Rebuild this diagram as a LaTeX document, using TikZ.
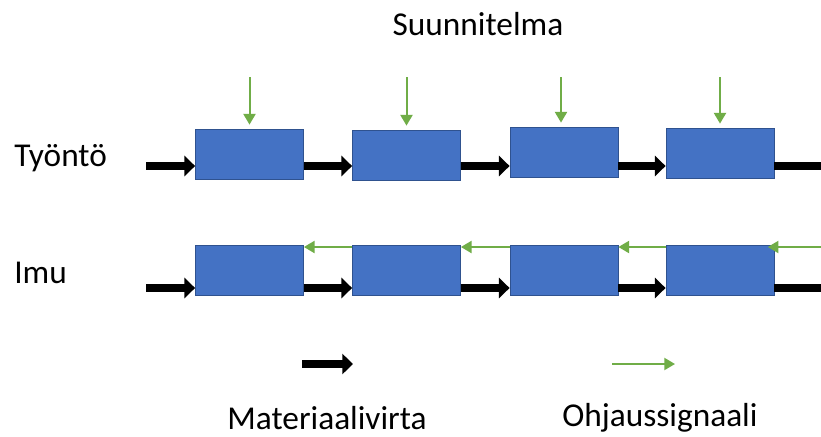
\documentclass[tikz,border=0pt]{standalone}
\usepackage{fontspec}
\setmainfont{Carlito}
\usetikzlibrary{arrows.meta}
\definecolor{boxblue}{HTML}{4472C4}
\definecolor{boxedge}{HTML}{2F528F}
\definecolor{siggreen}{HTML}{70AD47}
\tikzset{
  stage/.style={draw=boxedge, line width=0.6pt, fill=boxblue, inner sep=0pt,
    minimum width=81pt, minimum height=37.5pt},
  flow/.style={line width=6pt, -{Triangle[length=8pt,width=15pt]}},
  signal/.style={siggreen, line width=1.5pt, -{Triangle[length=8pt,width=9pt]}},
  label/.style={font=\fontsize{25}{29}\selectfont, inner sep=0pt}
}
\begin{document}
\begin{tikzpicture}[x=0.75pt, y=-0.75pt]
  \clip (0,0) rectangle (821,436);
  \fill[white] (0,0) rectangle (821,436);

  % titles
  \node[label] (plan) at (478,24) {Suunnitelma};
  \node[label, anchor=west] (push) at (14,158) {Työntö};
  \node[label, anchor=west] (pull) at (14,273) {Imu};

  % push line stages
  \node[stage] (t1) at (249.5,154) {};
  \node[stage] (t2) at (406.5,155) {};
  \node[stage] (t3) at (564,152) {};
  \node[stage] (t4) at (720,153) {};

  % pull line stages
  \node[stage] (b1) at (249.5,270.5) {};
  \node[stage] (b2) at (406.5,270.5) {};
  \node[stage] (b3) at (564,270.5) {};
  \node[stage] (b4) at (720,270.5) {};

  % helper coordinates
  \coordinate (tin) at (146,166);
  \coordinate (tout) at (832,166);
  \coordinate (bin) at (146,288);
  \coordinate (bout) at (832,288);
  \coordinate (gin) at (821,247);
  \coordinate (p1) at (249.5,77);
  \coordinate (p2) at (406.5,77);
  \coordinate (p3) at (561,77);
  \coordinate (p4) at (720,77);

  % material flow, push line
  \draw[flow] (tin) -- (t1.west |- tin);
  \draw[flow] (t1.east |- tin) -- (t2.west |- tin);
  \draw[flow] (t2.east |- tin) -- (t3.west |- tin);
  \draw[flow] (t3.east |- tin) -- (t4.west |- tin);
  \draw[flow] (t4.east |- tin) -- (tout);

  % material flow, pull line
  \draw[flow] (bin) -- (b1.west |- bin);
  \draw[flow] (b1.east |- bin) -- (b2.west |- bin);
  \draw[flow] (b2.east |- bin) -- (b3.west |- bin);
  \draw[flow] (b3.east |- bin) -- (b4.west |- bin);
  \draw[flow] (b4.east |- bin) -- (bout);

  % plan signals into each push stage
  \draw[signal, shorten >=3pt] (p1) -- (t1.north -| p1);
  \draw[signal, shorten >=3pt] (p2) -- (t2.north -| p2);
  \draw[signal, shorten >=3pt] (p3) -- (t3.north -| p3);
  \draw[signal, shorten >=3pt] (p4) -- (t4.north -| p4);

  % pull signals running upstream
  \draw[signal] (b2.west |- gin) -- (b1.east |- gin);
  \draw[signal] (b3.west |- gin) -- (b2.east |- gin);
  \draw[signal] (b4.west |- gin) -- (b3.east |- gin);
  \draw[signal, shorten >=-5pt] (gin) -- (b4.east |- gin);

  % legend
  \coordinate (lm1) at (302,364);
  \coordinate (lm2) at (353,364);
  \coordinate (ls1) at (612,364);
  \coordinate (ls2) at (675,364);
  \draw[flow] (lm1) -- (lm2);
  \draw[signal] (ls1) -- (ls2);
  \node[label] (lmat) at (327,418) {Materiaalivirta};
  \node[label] (lsig) at (660,418) {Ohjaussignaali};
\end{tikzpicture}
\end{document}
